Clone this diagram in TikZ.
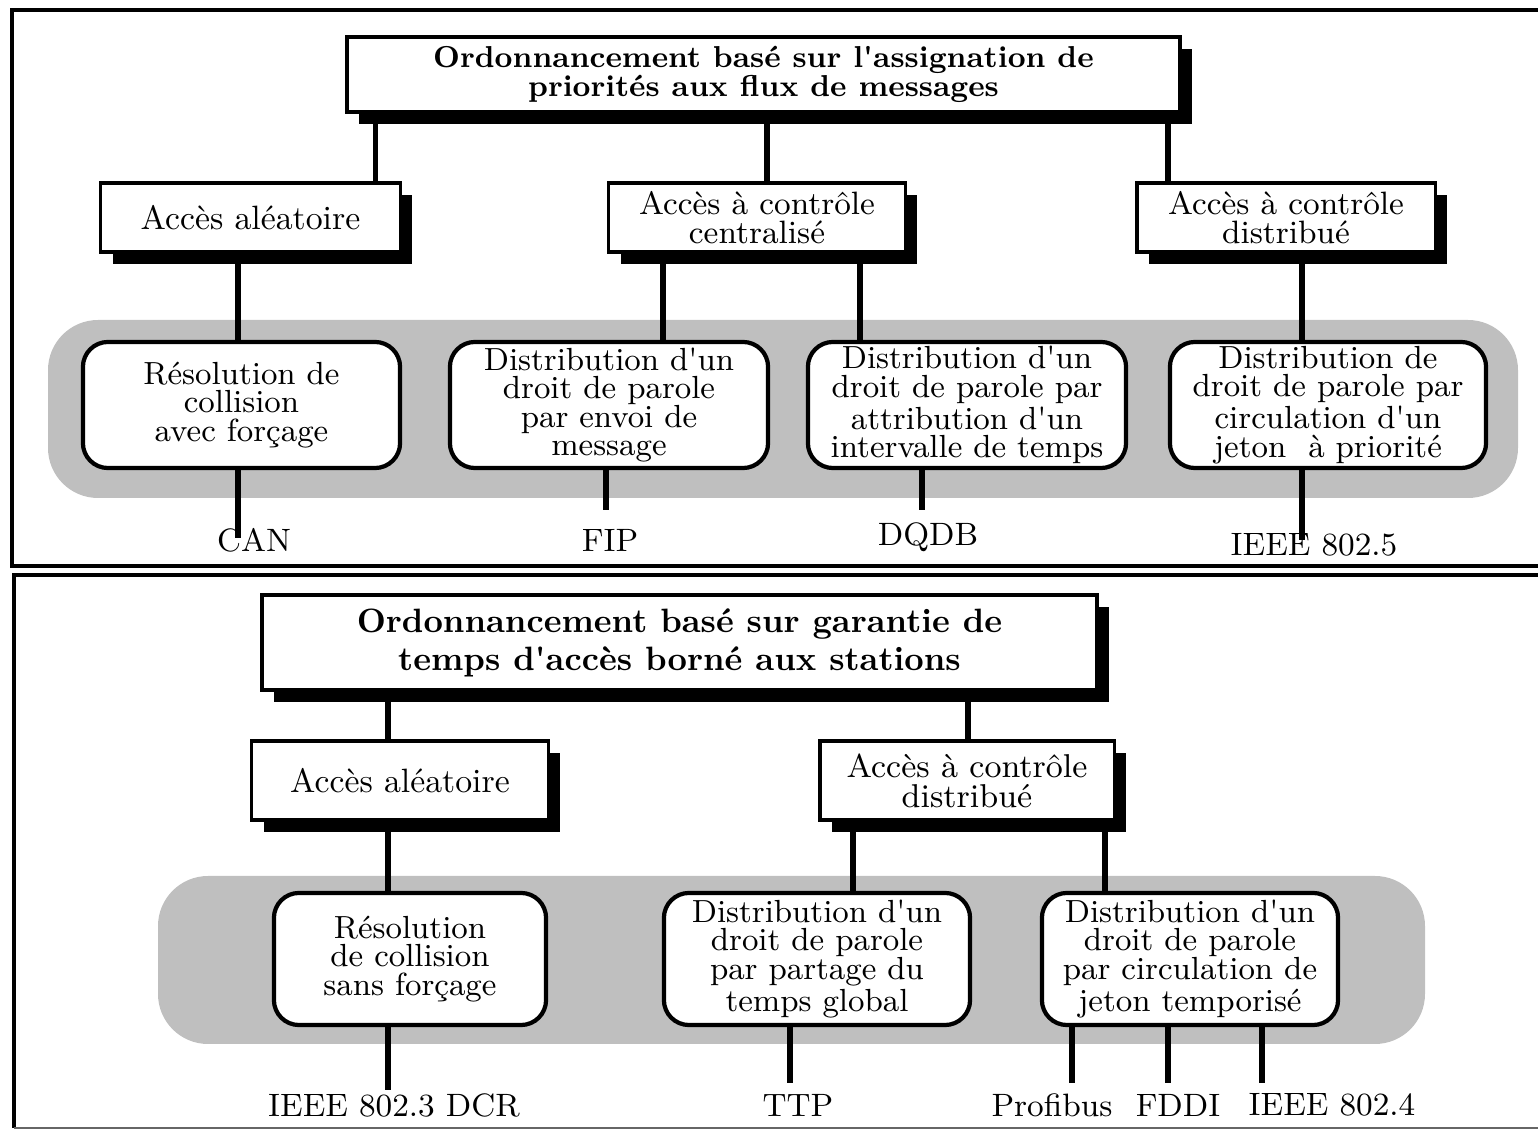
\documentclass[tikz,border=0pt]{standalone}
\usepackage{fontspec}
\usetikzlibrary{shadows,calc}

\newcommand{\apo}{\textquotesingle}
\tikzset{
  frame/.style={line width=1.2pt},
  hdrbox/.style={draw, line width=0.9pt, fill=white, align=center, inner sep=0pt,
    drop shadow={shadow xshift=0.12cm, shadow yshift=-0.12cm, fill=black, opacity=1}},
  titlebox/.style={hdrbox, line width=1.1pt, font=\bfseries},
  kindbox/.style={hdrbox, font=\fontsize{9.2}{8.3}\selectfont},
  methbox/.style={draw, line width=1.2pt, fill=white, rounded corners=0.25cm, align=center,
    inner sep=0pt, font=\fontsize{9.1}{8.1}\selectfont},
  band/.style={fill=black!25, rounded corners=0.5cm},
  leaf/.style={inner sep=0pt, font=\fontsize{9.2}{10}\selectfont},
  conn/.style={line width=1.5pt}
}

\begin{document}
\begin{tikzpicture}[x=0.01cm, y=-0.01cm]
\useasboundingbox (0,0) rectangle (1538,1131);
% frames
\draw[frame] (1560,10) -- (12,10) -- (12,566) -- (1560,566);
\draw[frame] (1560,575) -- (14,575) -- (14,1128);
\draw[line width=0.5pt, black!60] (14,1128) -- (1560,1128);

% ---- upper panel ----
\node[titlebox, minimum width=8.33cm, minimum height=0.75cm, font=\bfseries\fontsize{8.6}{8.4}\selectfont]
  (prio) at (763.5,74.5) {Ordonnancement basé sur l\apo assignation de\\priorités aux flux de messages};
\node[kindbox, minimum width=2.99cm, minimum height=0.69cm, font=\fontsize{9.6}{8.3}\selectfont] (alea1) at (250.5,217.5) {Accès aléatoire};
\node[kindbox, minimum width=2.96cm, minimum height=0.69cm] (centr) at (757,217.5) {Accès à contrôle\\centralisé};
\node[kindbox, minimum width=2.98cm, minimum height=0.69cm] (distr1) at (1286,217.5) {Accès à contrôle\\distribué};

\fill[band] (48,320) rectangle (1518,498);
\node[methbox, minimum width=3.17cm, minimum height=1.26cm] (force) at (241.5,405) {Résolution de\\collision\\avec forçage};
\node[methbox, minimum width=3.18cm, minimum height=1.26cm] (envoi) at (609,405) {Distribution d\apo un\\droit de parole\\par envoi de\\message};
\node[methbox, minimum width=3.18cm, minimum height=1.26cm] (interv) at (967,405) {Distribution d\apo un\\droit de parole par\\attribution d\apo un\\intervalle de temps};
\node[methbox, minimum width=3.16cm, minimum height=1.26cm] (jetonp) at (1328,405) {Distribution de\\droit de parole par\\circulation d\apo un\\jeton~ à priorité};

\node[leaf] (can) at (254,540) {CAN};
\node[leaf] (fip) at (610,540) {FIP};
\node[leaf] (dqdb) at (928,537) {DQDB};
\node[leaf] (ieee5) at (1314,545) {IEEE 802.5};

\draw[conn] ([xshift=1.25cm]alea1.north) -- ([xshift=1.25cm]alea1.north |- prio.south);
\draw[conn] ([xshift=0.1cm]centr.north) -- ([xshift=0.1cm]centr.north |- prio.south);
\draw[conn] ([xshift=-1.18cm]distr1.north) -- ([xshift=-1.18cm]distr1.north |- prio.south);
\draw[conn] ([xshift=-0.125cm]alea1.south) -- ([xshift=-0.125cm]alea1.south |- force.north);
\draw[conn] ([xshift=-0.94cm]centr.south) -- ([xshift=-0.94cm]centr.south |- envoi.north);
\draw[conn] ([xshift=1.03cm]centr.south) -- ([xshift=1.03cm]centr.south |- interv.north);
\draw[conn] ([xshift=0.16cm]distr1.south) -- ([xshift=0.16cm]distr1.south |- jetonp.north);

\coordinate (can-end) at (238,538);
\coordinate (fip-end) at (606,510);
\coordinate (dqdb-end) at (922,510);
\coordinate (ieee5-end) at (1302,540);
\draw[conn] (force.south -| can-end) -- (can-end);
\draw[conn] (envoi.south -| fip-end) -- (fip-end);
\draw[conn] (interv.south -| dqdb-end) -- (dqdb-end);
\draw[conn] (jetonp.south -| ieee5-end) -- (ieee5-end);

% ---- lower panel ----
\node[titlebox, minimum width=8.35cm, minimum height=0.95cm, font=\bfseries\fontsize{9.6}{10.8}\selectfont]
  (borne) at (679.5,642.5) {Ordonnancement basé sur garantie de\\temps d\apo accès borné aux stations};
\node[kindbox, minimum width=2.96cm, minimum height=0.79cm, font=\fontsize{9.6}{8.3}\selectfont] (alea2) at (400,780.5) {Accès aléatoire};
\node[kindbox, minimum width=2.94cm, minimum height=0.79cm, font=\fontsize{9.4}{8.6}\selectfont] (distr2) at (967,780.5) {Accès à contrôle\\distribué};

\fill[band] (158,876) rectangle (1425,1044);
\node[methbox, minimum width=2.72cm, minimum height=1.32cm] (sansf) at (410,959) {Résolution\\de collision\\sans forçage};
\node[methbox, minimum width=3.06cm, minimum height=1.32cm] (partage) at (817,959) {Distribution d\apo un\\droit de parole\\par partage du\\temps global};
\node[methbox, minimum width=2.96cm, minimum height=1.32cm] (jetont) at (1190,959) {Distribution d\apo un\\droit de parole\\par circulation de\\jeton temporisé};

\node[leaf] (dcr) at (394,1105) {IEEE 802.3 DCR};
\node[leaf] (ttp) at (798,1105) {TTP};
\node[leaf] (profi) at (1052,1105) {Profibus};
\node[leaf] (fddi) at (1178,1105) {FDDI};
\node[leaf] (ieee4) at (1332,1105) {IEEE 802.4};

\draw[conn] ([xshift=-0.12cm]alea2.north) -- ([xshift=-0.12cm]alea2.north |- borne.south);
\draw[conn] ([xshift=0.01cm]distr2.north) -- ([xshift=0.01cm]distr2.north |- borne.south);
\draw[conn] ([xshift=-0.12cm]alea2.south) -- ([xshift=-0.12cm]alea2.south |- sansf.north);
\draw[conn] ([xshift=-1.14cm]distr2.south) -- ([xshift=-1.14cm]distr2.south |- partage.north);
\draw[conn] ([xshift=1.38cm]distr2.south) -- ([xshift=1.38cm]distr2.south |- jetont.north);

\coordinate (dcr-end) at (388,1090);
\coordinate (ttp-end) at (790,1083);
\coordinate (profi-end) at (1072,1083);
\coordinate (fddi-end) at (1168,1083);
\coordinate (ieee4-end) at (1262,1083);
\draw[conn] (sansf.south -| dcr-end) -- (dcr-end);
\draw[conn] (partage.south -| ttp-end) -- (ttp-end);
\draw[conn] (jetont.south -| profi-end) -- (profi-end);
\draw[conn] (jetont.south -| fddi-end) -- (fddi-end);
\draw[conn] (jetont.south -| ieee4-end) -- (ieee4-end);
\end{tikzpicture}
\end{document}
